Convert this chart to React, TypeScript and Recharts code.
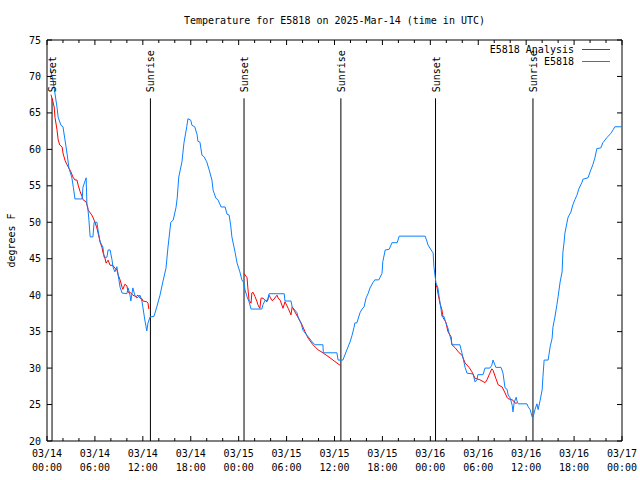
import React from 'react';
import { LineChart, Line, XAxis, YAxis, ReferenceLine, ReferenceArea, ReferenceDot } from 'recharts';

// ---------------- data ----------------
const blueHours = [0.4,0.75,1.25,1.4,1.75,2.0,2.25,2.5,2.75,3.1,3.3,3.5,4.4,4.5,4.9,5.0,5.1,5.25,5.4,5.75,5.9,6.25,6.4,6.65,7.0,7.15,7.5,7.65,7.9,8.15,8.25,8.5,8.75,8.85,9.0,9.15,9.4,10.0,10.15,10.4,10.5,10.75,11.0,11.25,11.65,11.9,12.0,12.25,12.5,12.65,12.9,13.4,13.75,14.15,14.5,14.9,15.15,15.5,15.8,16.15,16.3,16.5,16.9,17.15,17.5,17.65,18.0,18.15,18.5,18.8,18.9,19.15,19.4,19.65,20.0,20.3,20.65,20.8,21.15,21.4,21.8,22.3,22.55,22.8,23.0,23.15,23.55,23.8,24.15,24.4,24.65,24.8,25.05,25.3,25.55,26.9,27.05,27.3,27.65,27.8,29.7,29.8,30.55,30.7,31.3,31.45,31.8,32.05,32.55,32.7,33.2,33.55,34.55,34.6,36.3,36.45,37.05,37.3,37.55,37.95,38.2,38.45,38.55,38.8,39.2,39.45,39.7,39.95,40.2,40.45,40.8,41.05,41.55,41.95,42.05,42.35,42.85,43.2,43.85,44.1,47.35,47.6,47.7,48.1,48.35,48.45,48.7,48.95,49.1,49.35,49.45,49.7,49.95,50.2,50.35,50.6,50.7,51.7,51.95,52.1,52.35,52.6,53.35,53.6,53.85,53.95,54.6,54.85,55.45,55.7,55.85,56.1,56.2,56.85,57.1,57.25,57.35,57.6,57.75,58.0,58.25,58.35,58.5,58.75,58.85,59.0,60.1,60.25,60.5,60.75,60.85,61.1,61.35,61.5,61.75,62.0,62.1,62.25,62.75,63.0,63.25,63.35,63.6,63.85,64.0,64.25,64.5,64.6,64.75,64.85,65.1,65.25,65.6,65.85,66.1,66.35,66.6,67.0,67.1,67.75,68.0,68.35,68.6,68.85,69.35,69.6,70.1,70.6,70.9,71.1,72.0];
const blueTemps = [71.2,69.5,65.8,64.4,63.3,63.1,61.3,59.5,57.4,56.2,54.8,53.2,53.2,54.8,56.1,52.4,52.1,50.3,48.0,48.0,50.0,50.0,48.9,47.3,46.6,45.2,45.2,46.2,46.2,44.8,43.9,43.2,43.9,43.2,42.1,41.1,40.3,40.2,41.0,40.0,39.2,41.0,40.0,39.6,40.0,39.1,38.4,36.6,35.1,36.2,37.0,37.1,38.4,40.0,41.8,43.7,46.6,50.0,50.3,52.0,53.3,56.2,58.3,60.9,63.1,64.2,64.0,63.3,63.1,62.0,61.1,61.0,59.2,59.0,58.3,57.2,55.8,54.4,53.3,53.1,52.1,52.1,51.1,51.0,49.6,48.0,45.9,44.4,43.2,42.1,41.7,40.7,39.8,39.1,38.1,38.1,38.7,39.3,39.3,40.2,40.2,39.2,39.2,38.4,37.6,37.0,36.2,35.2,34.5,34.3,33.6,33.2,33.2,32.1,32.1,31.1,31.1,31.8,32.5,33.6,34.5,35.6,36.2,36.2,37.6,38.1,38.4,39.6,40.2,41.0,41.7,42.1,42.1,43.0,44.6,46.2,46.3,47.2,47.2,48.1,48.1,47.3,46.9,46.2,45.8,43.9,41.7,41.0,39.8,38.0,37.1,37.1,36.2,35.5,34.8,33.9,33.2,33.2,32.1,31.4,30.1,29.3,29.2,28.1,28.4,29.1,29.1,30.0,30.0,30.4,31.1,30.4,30.1,30.1,29.3,28.1,27.3,27.1,26.3,25.9,24.9,24.0,25.3,26.0,25.5,25.1,25.1,24.7,24.3,23.3,23.2,24.3,25.1,24.3,25.6,27.0,28.8,31.1,31.1,32.9,34.1,35.6,37.0,38.7,39.8,41.8,43.2,45.9,47.3,48.5,49.9,50.7,51.4,52.4,53.1,53.7,54.6,55.5,55.9,56.1,56.9,57.9,58.8,60.1,60.2,60.9,61.6,62.2,62.7,63.1,63.1];

const redHours = [0.5,0.75,0.9,1.0,1.25,1.4,1.6,1.9,2.0,2.25,2.5,2.65,3.0,3.25,3.5,3.75,3.9,4.15,4.4,4.5,4.9,5.0,5.15,5.4,5.6,5.75,6.0,6.25,6.4,6.65,6.9,7.0,7.25,7.4,7.65,7.9,8.25,8.5,8.75,8.9,9.15,9.4,9.5,9.75,10.0,10.15,10.4,10.75,11.15,11.4,11.65,11.9,12.0,12.5,12.65,12.75,18,
  24.65,25.05,25.15,25.3,25.55,25.65,25.8,26.05,26.3,26.4,26.65,26.8,27.05,27.3,27.55,27.8,28.15,28.3,28.8,28.95,29.2,29.55,29.8,30.2,30.55,30.7,31.05,31.45,31.95,32.3,32.7,33.3,33.95,34.55,35.45,36.3,36.8,42,
  48.7,48.85,48.95,49.2,49.45,49.6,49.95,50.2,50.6,50.7,51.1,51.6,51.95,52.35,52.85,53.2,53.6,54.2,54.85,55.1,55.45,55.7,55.85,56.2,56.5,57.0,57.35,57.6,57.75,58.35,58.6,58.85];
const redTemps = [67.5,66.5,65.8,64.4,62.7,61.3,60.6,60.3,59.5,58.5,57.9,57.6,56.9,56.2,55.8,55.8,55.1,54.2,53.5,53.1,52.8,52.4,51.7,51.3,51.0,50.7,50.0,49.2,48.5,47.3,46.5,45.9,45.1,44.4,44.8,44.1,44.1,43.7,43.5,42.8,42.1,41.1,40.8,41.5,41.3,40.4,40.4,40.0,39.8,40.0,39.6,39.5,39.2,39.1,38.9,38.1,null,
  43.0,42.4,41.0,39.3,38.9,40.3,40.4,39.8,39.1,38.7,38.2,39.6,39.6,39.3,39.1,40.0,39.3,39.3,40.0,39.6,39.3,38.2,39.1,38.2,37.3,38.4,37.7,36.9,35.9,35.0,34.1,33.2,32.5,32.1,31.4,30.7,30.3,null,
  41.4,41.0,40.3,38.9,38.0,36.9,36.3,35.0,34.3,33.2,32.8,32.1,31.8,30.7,30.1,29.5,28.6,28.4,28.0,28.4,29.3,29.9,29.7,28.6,27.7,27.4,26.6,26.0,25.8,25.6,25.2,25.2];

const sunHours = [0.63, 12.95, 24.67, 36.8, 48.65, 60.85];
const sunLabels = ['Sunset', 'Sunrise', 'Sunset', 'Sunrise', 'Sunset', 'Sunrise'];
const SUN_LINE_TOP = 67;

const xTicks = [0,2,4,6,8,10,12,14,16,18,20,22,24,26,28,30,32,34,36,38,40,42,44,46,48,50,52,54,56,58,60,62,64,66,68,70,72];
const majorHours = [0,6,12,18,24,30,36,42,48,54,60,66,72];
const tickDates = ['03/14','03/14','03/14','03/14','03/15','03/15','03/15','03/15','03/16','03/16','03/16','03/16','03/17'];
const tickTimes = ['00:00','06:00','12:00','18:00','00:00','06:00','12:00','18:00','00:00','06:00','12:00','18:00','00:00'];
const yTicks = [20,25,30,35,40,45,50,55,60,65,70,75];

const TITLE = 'Temperature for E5818 on 2025-Mar-14 (time in UTC)';
const Y_LABEL = 'degrees F';
const SERIES_RED = 'E5818 Analysis';
const SERIES_BLUE = 'E5818';
const RED = '#ff0000';
const BLUE = '#0a80ff';

const blueData = blueHours.map((h, i) => ({ h, v: blueTemps[i] }));
const redData = redHours.map((h, i) => ({ h, v: redTemps[i] }));
const legendItems = [{ name: SERIES_RED, color: RED }, { name: SERIES_BLUE, color: BLUE }];

// ---------------- layout ----------------
const W = 640, H = 480;
const MT = 40, MR = 18;
const Y_AXIS_W = 47;
const X_AXIS_H = 39;
const PLOT_TOP = MT;
const PLOT_BOTTOM = H - X_AXIS_H;
const PLOT_LEFT = Y_AXIS_W;
const PLOT_RIGHT = W - MR;
const FONT = '"DejaVu Sans Mono", "Liberation Mono", monospace';

const XTick = (props: any) => {
  const { x, payload } = props;
  const idx = majorHours.indexOf(payload.value);
  const len = idx >= 0 ? 5 : 3;
  return (
    <g>
      <line x1={x} x2={x} y1={PLOT_BOTTOM} y2={PLOT_BOTTOM - len} stroke="#000" strokeWidth={1} />
      <line x1={x} x2={x} y1={PLOT_TOP} y2={PLOT_TOP + len} stroke="#000" strokeWidth={1} />
      {idx >= 0 && (
        <text x={x} y={PLOT_BOTTOM + 16} textAnchor="middle" fontSize={10} fontFamily={FONT} fill="#000">{tickDates[idx]}</text>
      )}
      {idx >= 0 && (
        <text x={x} y={PLOT_BOTTOM + 30} textAnchor="middle" fontSize={10} fontFamily={FONT} fill="#000">{tickTimes[idx]}</text>
      )}
    </g>
  );
};

const YTick = (props: any) => {
  const { y, payload } = props;
  return (
    <g>
      <line x1={PLOT_LEFT} x2={PLOT_LEFT + 5} y1={y} y2={y} stroke="#000" strokeWidth={1} />
      <line x1={PLOT_RIGHT - 5} x2={PLOT_RIGHT} y1={y} y2={y} stroke="#000" strokeWidth={1} />
      <text x={PLOT_LEFT - 6} y={y + 3.5} textAnchor="end" fontSize={10} fontFamily={FONT} fill="#000">{payload.value}</text>
    </g>
  );
};

const SunLabel = (props: any) => {
  const { cx, cy, text } = props;
  const ax = cx + 4;
  const ay = cy - 6;
  return (
    <text x={ax} y={ay} transform={`rotate(-90 ${ax} ${ay})`} textAnchor="start" fontSize={10} fontFamily={FONT} fill="#000">{text}</text>
  );
};

export default function App() {
  return (
    <div style={{ position: 'absolute', left: 0, top: 0, width: W, height: H, background: '#fff' }}>
      <LineChart width={W} height={H} margin={{ top: MT, right: MR, bottom: 0, left: 0 }}>
        <XAxis dataKey="h" type="number" domain={[0, 72]} ticks={xTicks} interval={0} tick={<XTick />} tickLine={false} axisLine={false} height={X_AXIS_H} allowDataOverflow />
        <YAxis type="number" domain={[20, 75]} ticks={yTicks} interval={0} tick={<YTick />} tickLine={false} axisLine={false} width={Y_AXIS_W} allowDataOverflow />
        <ReferenceArea x1={0} x2={72} y1={20} y2={75} fill="none" fillOpacity={0} stroke="#000" strokeWidth={1} />
        {sunHours.map((h, i) => (
          <ReferenceLine key={'l' + i} segment={[{ x: h, y: SUN_LINE_TOP }, { x: h, y: 20 }]} stroke="#000" strokeWidth={1} />
        ))}
        {sunHours.map((h, i) => (
          <ReferenceDot key={'d' + i} x={h} y={SUN_LINE_TOP} r={0} shape={(p: any) => <SunLabel {...p} text={sunLabels[i]} />} />
        ))}
        <Line data={redData} dataKey="v" type="linear" stroke={RED} strokeWidth={1} dot={false} activeDot={false} connectNulls={false} isAnimationActive={false} />
        <Line data={blueData} dataKey="v" type="linear" stroke={BLUE} strokeWidth={1} dot={false} activeDot={false} isAnimationActive={false} />
      </LineChart>
      <svg width={W} height={H} style={{ position: 'absolute', left: 0, top: 0, pointerEvents: 'none' }}>
        <text x={(PLOT_LEFT + PLOT_RIGHT) / 2} y={23.5} textAnchor="middle" fontSize={10} fontFamily={FONT} fill="#000">{TITLE}</text>
        <text x={14.5} y={(PLOT_TOP + PLOT_BOTTOM) / 2} transform={`rotate(-90 14.5 ${(PLOT_TOP + PLOT_BOTTOM) / 2})`} textAnchor="middle" fontSize={10} fontFamily={FONT} fill="#000">{Y_LABEL}</text>
        {legendItems.map((s, i) => (
          <g key={s.name}>
            <text x={574} y={52.5 + i * 12} textAnchor="end" fontSize={10} fontFamily={FONT} fill="#000">{s.name}</text>
            <line x1={582} x2={610} y1={49.5 + i * 12} y2={49.5 + i * 12} stroke={s.color} strokeWidth={1} />
          </g>
        ))}
      </svg>
    </div>
  );
}
